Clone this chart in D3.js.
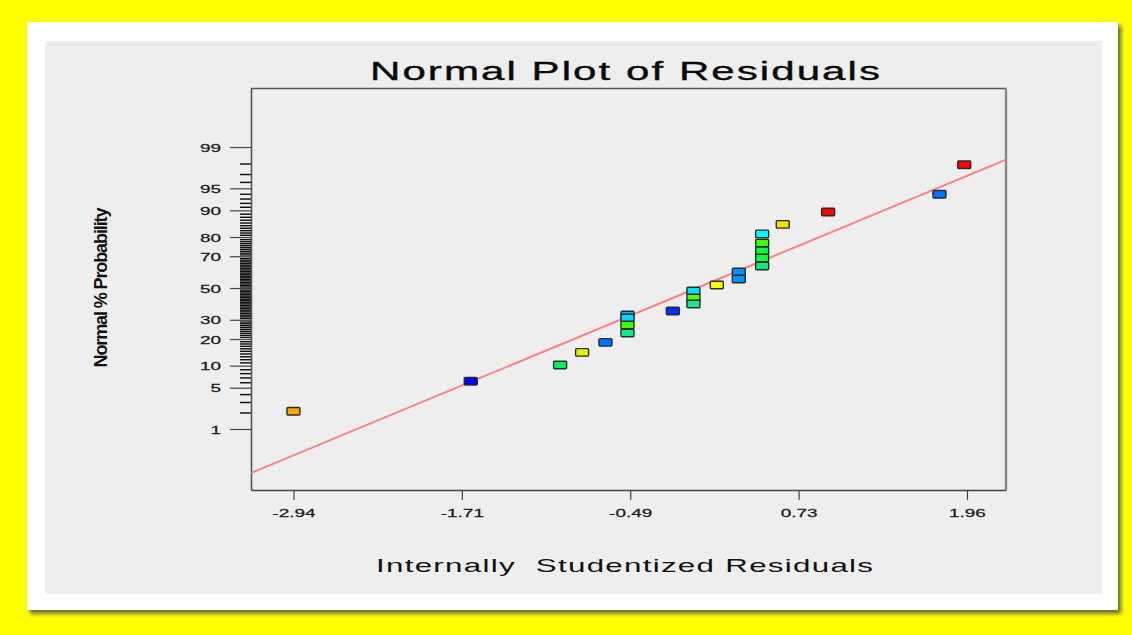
<!DOCTYPE html>
<html>
<head>
<meta charset="utf-8">
<script src="https://cdn.jsdelivr.net/npm/d3@7"></script>
<style>
  html, body { margin: 0; padding: 0; background: #ffff00; }
  svg { display: block; }
  text { font-family: "Liberation Sans", Arial, Helvetica, sans-serif; }
</style>
</head>
<body>
<svg id="chart" width="1132" height="635"></svg>
<script>
// Internally studentized residuals (x) and their normal % probability (y)
const residuals = [-2.94, -1.65, -1.00, -0.84, -0.67, -0.51, -0.51, -0.51, -0.51, -0.18,
                   -0.03, -0.03, -0.03, 0.14, 0.30, 0.30, 0.47, 0.47, 0.47, 0.47,
                   0.47, 0.62, 0.95, 1.76, 1.94];
const probabilities = [2.1, 6.2, 10.2, 14.4, 18.5, 22.9, 27.1, 31.0, 32.8, 35.2,
                       39.6, 43.5, 48.0, 52.0, 55.9, 60.4, 64.2, 69.0, 73.0, 77.1,
                       81.4, 85.3, 89.5, 93.9, 97.9];
const pointColors = ["#ffa500", "#0000ff", "#00ee66", "#e0f500", "#0070ff",
                     "#10eb90", "#40ff00", "#00d8ff", "#00b8ff", "#0030ff",
                     "#10eb90", "#50ff10", "#00e0ff", "#ffff00", "#0090ff",
                     "#0090ff", "#00f080", "#00ff40", "#00ff40", "#40ff00",
                     "#00ffff", "#f0e000", "#ff0000", "#0070ff", "#ff0000"];

const xTickValues = [-2.94, -1.715, -0.49, 0.735, 1.96];
const xTickLabels = ["-2.94", "-1.71", "-0.49", "0.73", "1.96"];
const yMajorTicks = [1, 5, 10, 20, 30, 50, 70, 80, 90, 95, 99];
const yMinorTicks = [2, 3, 4, 6, 7, 8, 9, 11, 12, 13, 14, 15, 16, 17, 18, 19,
  21, 22, 23, 24, 25, 26, 27, 28, 29, 31, 32, 33, 34, 35, 36, 37, 38, 39, 40,
  41, 42, 43, 44, 45, 46, 47, 48, 49, 51, 52, 53, 54, 55, 56, 57, 58, 59, 60,
  61, 62, 63, 64, 65, 66, 67, 68, 69, 71, 72, 73, 74, 75, 76, 77, 78, 79,
  81, 82, 83, 84, 85, 86, 87, 88, 89, 91, 92, 93, 94, 96, 97, 98];

// reference line in normal-score units: z = slope * residual + intercept
const fitSlope = 0.941;
const fitIntercept = 0.005;

const xDomain = [-3.249, 2.244];
const zDomain = [-3.333, 3.292];

// inverse of the standard normal CDF (Acklam's rational approximation)
function probit(p) {
  const a = [-3.969683028665376e+01, 2.209460984245205e+02, -2.759285104469687e+02,
             1.383577518672690e+02, -3.066479806614716e+01, 2.506628277459239e+00];
  const b = [-5.447609879822406e+01, 1.615858368580409e+02, -1.556989798598866e+02,
             6.680131188771972e+01, -1.328068155288572e+01];
  const c = [-7.784894002430293e-03, -3.223964580411365e-01, -2.400758277161838e+00,
             -2.549732539343734e+00, 4.374664141464968e+00, 2.938163982698783e+00];
  const d = [7.784695709041462e-03, 3.224671290700398e-01, 2.445134137142996e+00,
             3.754408661907416e+00];
  const pl = 0.02425, ph = 1 - pl;
  let q, r;
  if (p < pl) {
    q = Math.sqrt(-2 * Math.log(p));
    return (((((c[0]*q + c[1])*q + c[2])*q + c[3])*q + c[4])*q + c[5]) /
           ((((d[0]*q + d[1])*q + d[2])*q + d[3])*q + 1);
  }
  if (p <= ph) {
    q = p - 0.5; r = q * q;
    return (((((a[0]*r + a[1])*r + a[2])*r + a[3])*r + a[4])*r + a[5]) * q /
           (((((b[0]*r + b[1])*r + b[2])*r + b[3])*r + b[4])*r + 1);
  }
  q = Math.sqrt(-2 * Math.log(1 - p));
  return -(((((c[0]*q + c[1])*q + c[2])*q + c[3])*q + c[4])*q + c[5]) /
          ((((d[0]*q + d[1])*q + d[2])*q + d[3])*q + 1);
}

const svg = d3.select("#chart");
const plot = { left: 251, top: 88.5, right: 1006, bottom: 490 };
const textStretch = 1.65;

const defs = svg.append("defs");
const shadow = defs.append("filter").attr("id", "cardShadow")
  .attr("x", "-5%").attr("y", "-5%").attr("width", "110%").attr("height", "110%");
shadow.append("feDropShadow").attr("dx", 3).attr("dy", 3.5).attr("stdDeviation", 2)
  .attr("flood-color", "#444").attr("flood-opacity", 0.85);
defs.append("clipPath").attr("id", "plotClip").append("rect")
  .attr("x", plot.left).attr("y", plot.top)
  .attr("width", plot.right - plot.left).attr("height", plot.bottom - plot.top);

// page background, white card and gray panel
svg.append("rect").attr("width", 1132).attr("height", 635).attr("fill", "#ffff00");
svg.append("rect").attr("x", 27).attr("y", 22).attr("width", 1091).attr("height", 588)
  .attr("fill", "#ffffff").attr("filter", "url(#cardShadow)");
svg.append("rect").attr("x", 45).attr("y", 41).attr("width", 1057).attr("height", 553)
  .attr("fill", "#eeeeee");

const x = d3.scaleLinear().domain(xDomain).range([plot.left, plot.right]);
const y = d3.scaleLinear().domain(zDomain).range([plot.bottom, plot.top]);

// title
const title = svg.append("g").attr("transform", `translate(625,80) scale(${textStretch},1)`);
title.append("text").attr("text-anchor", "middle").attr("font-size", 25.5)
  .attr("fill", "#0a0a0a").attr("stroke", "#0a0a0a").attr("stroke-width", 0.35)
  .attr("textLength", 510 / textStretch).attr("lengthAdjust", "spacing")
  .text("Normal Plot of Residuals");

// minor probability ticks
const yMinorAxis = d3.axisLeft(y)
  .tickValues(yMinorTicks.map(p => probit(p / 100)))
  .tickSize(11).tickSizeOuter(0).tickFormat("");
const gMinor = svg.append("g").attr("transform", `translate(${plot.left},0)`).call(yMinorAxis);
gMinor.select(".domain").remove();
gMinor.selectAll(".tick line").attr("stroke", "#111").attr("stroke-width", 1.45);

// major probability ticks
const yAxis = d3.axisLeft(y)
  .tickValues(yMajorTicks.map(p => probit(p / 100)))
  .tickFormat((d, i) => yMajorTicks[i])
  .tickSize(21).tickSizeOuter(0);
const gy = svg.append("g").attr("transform", `translate(${plot.left},0)`).call(yAxis);
gy.select(".domain").attr("stroke", "#555").attr("stroke-width", 1.6);
gy.selectAll(".tick line").attr("stroke", "#444").attr("stroke-width", 1.2);
gy.selectAll(".tick text")
  .attr("x", 0).attr("dy", "0.36em")
  .attr("transform", `translate(-30,0) scale(${textStretch},1)`)
  .attr("font-size", 11.5).attr("fill", "#1a1a1a")
  .attr("stroke", "#1a1a1a").attr("stroke-width", 0.25);

// residual axis
const xAxis = d3.axisBottom(x)
  .tickValues(xTickValues)
  .tickFormat((d, i) => xTickLabels[i])
  .tickSize(10).tickSizeOuter(0);
const gx = svg.append("g").attr("transform", `translate(0,${plot.bottom})`).call(xAxis);
gx.select(".domain").attr("stroke", "#444").attr("stroke-width", 1.6);
gx.selectAll(".tick line").attr("stroke", "#444").attr("stroke-width", 1.2);
gx.selectAll(".tick text")
  .attr("y", 0).attr("dy", 0)
  .attr("transform", `translate(0,27) scale(${textStretch},1)`)
  .attr("font-size", 11.5).attr("fill", "#1a1a1a")
  .attr("stroke", "#1a1a1a").attr("stroke-width", 0.25);

// top and right frame
svg.append("line").attr("x1", plot.left).attr("x2", plot.right)
  .attr("y1", plot.top).attr("y2", plot.top).attr("stroke", "#555").attr("stroke-width", 1.6);
svg.append("line").attr("x1", plot.right).attr("x2", plot.right)
  .attr("y1", plot.top).attr("y2", plot.bottom).attr("stroke", "#888").attr("stroke-width", 2.4);

// axis titles
const xTitle = svg.append("g").attr("transform", `translate(624.5,572) scale(${textStretch},1)`);
xTitle.append("text").attr("text-anchor", "middle").attr("font-size", 19)
  .attr("fill", "#111").style("white-space", "pre")
  .attr("textLength", 497 / textStretch).attr("lengthAdjust", "spacing")
  .text("Internally  Studentized Residuals");

svg.append("text")
  .attr("transform", "translate(107,287.5) rotate(-90)")
  .attr("text-anchor", "middle").attr("font-size", 18).attr("font-weight", "bold")
  .attr("fill", "#111")
  .attr("textLength", 160).attr("lengthAdjust", "spacing")
  .text("Normal % Probability");

// fitted normal line
svg.append("line")
  .attr("clip-path", "url(#plotClip)")
  .attr("x1", x(xDomain[0])).attr("y1", y(fitSlope * xDomain[0] + fitIntercept))
  .attr("x2", x(xDomain[1])).attr("y2", y(fitSlope * xDomain[1] + fitIntercept))
  .attr("stroke", "#ff8080").attr("stroke-width", 2);

// residual points, later ranks drawn first so lower ranks sit on top
const points = residuals.map((r, i) => ({ r, p: probabilities[i], c: pointColors[i] })).reverse();
const boxW = 13, boxH = 7.5;
svg.append("g").selectAll("rect").data(points).join("rect")
  .attr("x", d => x(d.r) - boxW / 2)
  .attr("y", d => y(probit(d.p / 100)) - boxH / 2)
  .attr("width", boxW).attr("height", boxH).attr("rx", 1)
  .attr("fill", d => d.c)
  .attr("stroke", "#2a2a2a").attr("stroke-width", 1.4);
</script>
</body>
</html>
